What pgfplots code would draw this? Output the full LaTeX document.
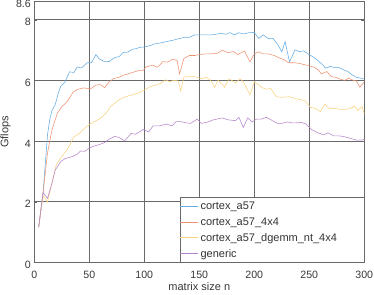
\documentclass[border=0pt]{standalone}
\usepackage{pgfplots}
\pgfplotsset{compat=1.18}
\usepackage{fontspec}
\setmainfont{Liberation Sans}
\definecolor{c1}{RGB}{100,172,228}
\definecolor{c2}{RGB}{238,145,112}
\definecolor{c3}{RGB}{248,210,125}
\definecolor{c4}{RGB}{180,132,202}
\definecolor{gridc}{RGB}{105,105,105}
\newcommand{\lf}{\fontsize{11}{13}\selectfont}
\newcommand{\st}{\rule{0pt}{8.5pt}}
\begin{document}
\begin{tikzpicture}
\begin{axis}[
  scale only axis,
  width=330pt, height=260.8pt,
  xmin=0, xmax=300, ymin=0, ymax=8.6,
  xtick={0,50,...,300},
  ytick={0,2,4,6,8,8.6},
  yticklabels={0,2,4,6,8,8.6},
  grid=major,
  grid style={gridc, line width=0.6pt},
  axis line style={gridc, line width=0.6pt},
  tick style={gridc},
  tick align=inside,
  major tick length=3pt,
  /pgf/number format/assume math mode=true,
  tick label style={font=\fontsize{10.6}{12}\selectfont, text=black!78},
  xticklabel style={anchor=base, yshift=-16pt},
  yticklabel style={yshift=-2.5pt},
  label style={font=\lf, text=black!78},
  xlabel={matrix size n},
  xlabel style={at={(axis description cs:0.5,-0.110)}, anchor=base},
  ylabel={Gflops},
  ylabel style={at={(axis description cs:-0.0873,0.5)}, anchor=center},
  legend style={at={(1,0)}, anchor=south east, draw=gridc, line width=0.6pt,
    font=\lf, text=black!80, inner xsep=0pt, inner ysep=1.4pt,
    row sep=1.85pt, cells={anchor=west}},
  legend cell align=left,
  legend image code/.code={\draw[#1, line width=0.7pt] (0pt,0pt) -- (18pt,0pt);},
  every axis plot/.append style={line width=0.55pt},
]
\addplot[c1] coordinates {(4,1.16) (8,2.3) (12,4.2) (14,4.7) (16,5.0) (19,5.2) (22,5.6) (24,5.8) (28,5.95) (32,6.28) (36,6.26) (39,6.44) (43,6.41) (48,6.58) (52,6.58) (56,6.85) (59,6.71) (63,6.63) (68,6.62) (73,6.75) (77,6.78) (81,6.92) (85,6.93) (89,7.02) (93,7.05) (96,7.09) (100,7.1) (105,7.14) (109,7.2) (114,7.23) (118,7.26) (123,7.3) (127,7.33) (132,7.38) (137,7.42) (141,7.42) (146,7.5) (150,7.5) (155,7.5) (161,7.5) (165,7.52) (170,7.55) (174,7.52) (178,7.57) (182,7.5) (186,7.57) (190,7.53) (195,7.57) (200,7.58) (204,7.38) (208,7.5) (213,7.37) (217,7.38) (221,7.2) (225,6.94) (228,7.28) (232,6.61) (237,7.0) (241,6.95) (245,6.97) (249,6.87) (253,6.78) (257,6.68) (261,6.55) (265,6.4) (269,6.46) (273,6.42) (277,6.42) (281,6.35) (285,6.29) (289,6.18) (293,6.1) (297,6.07) (300,6.04)};
\addlegendentry{\st cortex\_a57}
\addplot[c2] coordinates {(4,1.16) (8,2.3) (12,3.6) (16,4.36) (21,4.92) (25,5.13) (30,5.3) (35,5.6) (39,5.7) (45,5.75) (51,5.72) (56,5.84) (60,5.86) (64,5.76) (68,5.95) (72,6.06) (77,6.1) (81,6.17) (86,6.22) (90,6.27) (96,6.33) (99,6.33) (102,6.45) (108,6.5) (112,6.43) (117,6.62) (121,6.6) (126,6.7) (130,6.64) (132,6.21) (136,6.72) (141,6.82) (146,6.82) (150,6.85) (155,6.87) (161,6.87) (167,6.9) (171,7.0) (176,6.91) (181,6.95) (185,6.85) (191,6.97) (196,6.61) (200,6.87) (204,6.94) (208,6.87) (213,6.87) (218,6.82) (222,6.75) (227,6.68) (231,6.58) (236,6.58) (241,6.56) (245,6.52) (249,6.49) (255,6.42) (258,6.35) (261,6.21) (266,6.29) (270,6.12) (274,6.1) (278,6.04) (282,6.0) (286,6.07) (290,6.0) (293,5.98) (296,5.77) (300,5.96)};
\addlegendentry{\st cortex\_a57\_4x4}
\addplot[c3] coordinates {(4,1.16) (8,2.2) (12,1.98) (17,2.77) (20,3.22) (24,3.44) (30,3.72) (36,4.14) (41,4.25) (45,4.4) (51,4.57) (57,4.68) (62,4.8) (66,4.95) (69,5.12) (73,5.25) (78,5.38) (82,5.45) (87,5.5) (92,5.55) (96,5.6) (102,5.72) (106,5.8) (110,5.84) (115,5.9) (119,6.02) (123,5.96) (127,6.0) (131,5.98) (133,5.65) (136,6.11) (141,6.12) (146,6.12) (150,6.08) (152,6.05) (156,6.1) (160,6.01) (164,5.77) (167,6.0) (170,5.9) (173,5.77) (177,6.05) (183,5.92) (187,6.05) (190,5.96) (196,5.52) (200,5.95) (204,5.85) (207,5.76) (211,5.71) (215,5.73) (220,5.46) (224,5.44) (228,5.45) (232,5.46) (237,5.4) (242,5.36) (246,5.33) (251,5.11) (255,5.08) (260,4.97) (264,5.22) (268,5.08) (273,5.08) (278,5.04) (283,5.04) (289,5.1) (291,5.16) (294,5.0) (298,5.14) (300,4.89)};
\addlegendentry{\st cortex\_a57\_dgemm\_nt\_4x4\hspace{25pt}\mbox{}}
\addplot[c4] coordinates {(4,1.16) (8,2.3) (12,2.11) (16,2.6) (19,3.04) (24,3.32) (28,3.42) (35,3.49) (39,3.56) (42,3.67) (46,3.66) (50,3.77) (55,3.84) (59,3.88) (64,3.95) (68,4.06) (73,4.15) (77,4.12) (82,4.0) (88,4.25) (92,4.22) (99,4.38) (104,4.3) (108,4.5) (114,4.5) (120,4.56) (125,4.5) (129,4.64) (133,4.64) (138,4.6) (142,4.58) (148,4.72) (152,4.58) (158,4.63) (163,4.7) (167,4.73) (171,4.76) (176,4.7) (183,4.67) (186,4.78) (190,4.45) (194,4.76) (198,4.63) (202,4.72) (206,4.72) (211,4.78) (215,4.7) (221,4.58) (225,4.58) (230,4.63) (234,4.6) (238,4.6) (243,4.61) (247,4.56) (252,4.38) (258,4.27) (263,4.2) (267,4.27) (272,4.17) (277,4.17) (282,4.14) (288,4.08) (293,4.03) (297,4.03) (300,4.05)};
\addlegendentry{\st generic}
\end{axis}
\pgfresetboundingbox
\path (-34.3pt,-31.7pt) rectangle (339.7pt,262.3pt);
\end{tikzpicture}
\end{document}
